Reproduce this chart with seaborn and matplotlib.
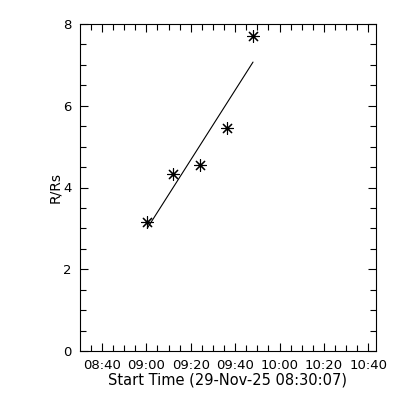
import numpy as np
import pandas as pd
import matplotlib
matplotlib.use("Agg")
import matplotlib.pyplot as plt
from matplotlib.ticker import MultipleLocator, FixedLocator, FixedFormatter
import seaborn as sns

# seconds after 08:30:07 on 29-Nov-25
t_sec = [1819, 2522, 3243, 3981, 4676]
r_rs = [3.16, 4.33, 4.54, 5.45, 7.71]

xtick_sec = [593, 1793, 2993, 4193, 5393, 6593, 7793]
xtick_labels = ["08:40", "09:00", "09:20", "09:40", "10:00", "10:20", "10:40"]

df = pd.DataFrame({"t": t_sec, "r": r_rs})

sns.set_style("white", {"text.color": "black", "axes.labelcolor": "black",
                        "xtick.color": "black", "ytick.color": "black"})
plt.rcParams["font.family"] = ["DejaVu Sans"]

fig = plt.figure(figsize=(4, 4), dpi=100)
ax = fig.add_axes([0.2, 0.1225, 0.74, 0.8175])

# linear fit through the measured heights
sns.regplot(data=df, x="t", y="r", ax=ax, scatter=False, ci=None,
            truncate=True, line_kws=dict(color="black", linewidth=0.8))
sns.scatterplot(data=df, x="t", y="r", ax=ax, marker=(8, 2, 0), s=75,
                color="black", linewidth=0.8, edgecolor="black")

ax.set_xlim(0, 8000)
ax.set_ylim(0, 8)
ax.xaxis.set_major_locator(FixedLocator(xtick_sec))
ax.xaxis.set_major_formatter(FixedFormatter(xtick_labels))
ax.xaxis.set_minor_locator(FixedLocator(np.arange(593 - 300, 8000, 300)))
ax.yaxis.set_major_locator(MultipleLocator(2))
ax.yaxis.set_minor_locator(MultipleLocator(0.5))

ax.tick_params(which="both", direction="in", top=True, right=True,
               bottom=True, left=True, color="black", labelcolor="black",
               width=0.8)
ax.tick_params(which="major", length=6, labelsize=9.5, pad=6)
ax.tick_params(which="minor", length=4)
for s in ax.spines.values():
    s.set_color("black")
    s.set_linewidth(0.8)

ax.set_xlabel("Start Time (29-Nov-25 08:30:07)", fontsize=10.5, labelpad=0,
              color="black")
ax.set_ylabel("R/Rs", fontsize=10, labelpad=1, color="black")

fig.savefig("out.png", dpi=100, facecolor="white")
